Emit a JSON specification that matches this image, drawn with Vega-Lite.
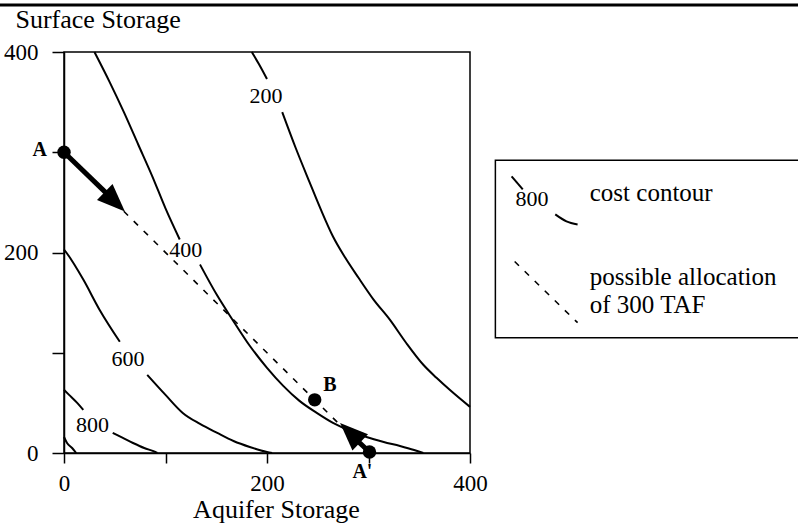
{
  "$schema": "https://vega.github.io/schema/vega-lite/v6.json",
  "width": 406,
  "height": 401,
  "autosize": {"type": "none"},
  "padding": {"left": 64, "top": 52, "right": 328, "bottom": 74},
  "background": "white",
  "config": {
    "font": "Liberation Serif",
    "view": {"stroke": "black", "strokeWidth": 1.5},
    "axis": {
      "grid": false,
      "domainColor": "black",
      "domainWidth": 1.5,
      "tickColor": "black",
      "tickWidth": 1.5,
      "labelColor": "black",
      "labelFont": "Liberation Serif",
      "labelFontSize": 23,
      "titleFont": "Liberation Serif",
      "titleFontSize": 26,
      "titleFontWeight": "normal",
      "titleColor": "black"
    }
  },
  "datasets": {
    "contours": [
      {"s": "200a", "x": 185, "y": 400}, {"s": "200a", "x": 192, "y": 388}, {"s": "200a", "x": 200, "y": 373},
      {"s": "200b", "x": 215, "y": 340}, {"s": "200b", "x": 228, "y": 305}, {"s": "200b", "x": 242, "y": 270},
      {"s": "200b", "x": 253, "y": 243}, {"s": "200b", "x": 265, "y": 216}, {"s": "200b", "x": 277, "y": 195},
      {"s": "200b", "x": 290, "y": 175}, {"s": "200b", "x": 305, "y": 153}, {"s": "200b", "x": 321, "y": 133},
      {"s": "200b", "x": 337, "y": 110}, {"s": "200b", "x": 354, "y": 88}, {"s": "200b", "x": 367, "y": 75},
      {"s": "200b", "x": 380, "y": 63}, {"s": "200b", "x": 400, "y": 46},
      {"s": "400a", "x": 30, "y": 400}, {"s": "400a", "x": 45, "y": 370}, {"s": "400a", "x": 59, "y": 340},
      {"s": "400a", "x": 73, "y": 308}, {"s": "400a", "x": 87, "y": 276}, {"s": "400a", "x": 100, "y": 244},
      {"s": "400a", "x": 114, "y": 213},
      {"s": "400b", "x": 134, "y": 188}, {"s": "400b", "x": 151, "y": 157}, {"s": "400b", "x": 166, "y": 133},
      {"s": "400b", "x": 183, "y": 107}, {"s": "400b", "x": 200, "y": 85}, {"s": "400b", "x": 216, "y": 67},
      {"s": "400b", "x": 232, "y": 52}, {"s": "400b", "x": 249, "y": 40}, {"s": "400b", "x": 265, "y": 30},
      {"s": "400b", "x": 282, "y": 22}, {"s": "400b", "x": 298, "y": 16}, {"s": "400b", "x": 315, "y": 11},
      {"s": "400b", "x": 331, "y": 7}, {"s": "400b", "x": 345, "y": 3}, {"s": "400b", "x": 354, "y": 0},
      {"s": "600a", "x": 0, "y": 203}, {"s": "600a", "x": 3, "y": 199}, {"s": "600a", "x": 19, "y": 173},
      {"s": "600a", "x": 35, "y": 143}, {"s": "600a", "x": 55, "y": 111},
      {"s": "600b", "x": 82, "y": 78}, {"s": "600b", "x": 100, "y": 58}, {"s": "600b", "x": 117, "y": 40},
      {"s": "600b", "x": 134, "y": 29}, {"s": "600b", "x": 151, "y": 20}, {"s": "600b", "x": 167, "y": 12},
      {"s": "600b", "x": 183, "y": 6}, {"s": "600b", "x": 200, "y": 1}, {"s": "600b", "x": 205, "y": 0},
      {"s": "800a", "x": 0, "y": 63}, {"s": "800a", "x": 5, "y": 58}, {"s": "800a", "x": 13, "y": 50},
      {"s": "800a", "x": 19, "y": 43},
      {"s": "800b", "x": 48, "y": 20}, {"s": "800b", "x": 58, "y": 15}, {"s": "800b", "x": 68, "y": 10},
      {"s": "800b", "x": 79, "y": 5}, {"s": "800b", "x": 90, "y": 1}, {"s": "800b", "x": 92, "y": 0},
      {"s": "1000", "x": 0, "y": 16}, {"s": "1000", "x": 3, "y": 10}, {"s": "1000", "x": 8, "y": 5},
      {"s": "1000", "x": 12, "y": 0},
      {"s": "leg1", "x": 441, "y": 276}, {"s": "leg1", "x": 452, "y": 263},
      {"s": "leg2", "x": 484, "y": 238}, {"s": "leg2", "x": 495, "y": 231}, {"s": "leg2", "x": 506, "y": 228}
    ],
    "alloc": [
      {"s": "main", "x": 0, "y": 300}, {"s": "main", "x": 300, "y": 0},
      {"s": "leg", "x": 444, "y": 191}, {"s": "leg", "x": 506, "y": 130}
    ],
    "shafts": [
      {"s": "a1", "x": 0, "y": 300}, {"s": "a1", "x": 45, "y": 256},
      {"s": "a2", "x": 301, "y": 1}, {"s": "a2", "x": 287, "y": 14}
    ],
    "points": [
      {"name": "A", "x": 0, "y": 300},
      {"name": "A'", "x": 301, "y": 1},
      {"name": "B", "x": 247, "y": 53}
    ],
    "contourLabels": [
      {"t": "200", "x": 199, "y": 356},
      {"t": "400", "x": 120, "y": 202},
      {"t": "600", "x": 63, "y": 94},
      {"t": "800", "x": 28, "y": 28},
      {"t": "800", "x": 461, "y": 253}
    ],
    "pointLabels": [
      {"t": "A", "x": -24, "y": 302},
      {"t": "A'", "x": 294, "y": -19},
      {"t": "B", "x": 262, "y": 68}
    ],
    "legendText": [
      {"t": "cost contour", "x": 518, "y": 251},
      {"t": "possible allocation", "x": 518, "y": 168},
      {"t": "of 300 TAF", "x": 518, "y": 140}
    ]
  },
  "encoding": {
    "x": {
      "field": "x",
      "type": "quantitative",
      "scale": {"domain": [0, 400], "nice": false, "zero": false},
      "axis": {
        "values": [0, 100, 200, 300, 400],
        "labelExpr": "datum.value % 200 === 0 ? datum.label : ''",
        "tickSize": 10,
        "labelPadding": 9,
        "labelFlush": false,
        "labelOverlap": false,
        "title": "Aquifer Storage",
        "titleX": 212,
        "titleY": 64,
        "titleAlign": "center",
        "titleBaseline": "alphabetic"
      }
    },
    "y": {
      "field": "y",
      "type": "quantitative",
      "scale": {"domain": [0, 400], "nice": false, "zero": false},
      "axis": {
        "values": [0, 100, 200, 300, 400],
        "labelExpr": "datum.value % 200 === 0 ? datum.label : ''",
        "tickSize": 12,
        "labelPadding": 14,
        "labelFlush": false,
        "labelOverlap": false,
        "title": "Surface Storage",
        "titleAngle": 0,
        "titleX": -49,
        "titleY": -25,
        "titleAlign": "left",
        "titleBaseline": "alphabetic"
      }
    }
  },
  "layer": [
    {
      "data": {"name": "contours"},
      "mark": {"type": "line", "color": "black", "strokeWidth": 2, "interpolate": "monotone", "clip": false},
      "encoding": {"detail": {"field": "s"}}
    },
    {
      "data": {"name": "alloc"},
      "mark": {"type": "line", "color": "black", "strokeWidth": 1.6, "strokeDash": [6, 8], "clip": false},
      "encoding": {"detail": {"field": "s"}}
    },
    {
      "data": {"values": [{"x": 425, "x2": 760, "y": 115, "y2": 292}]},
      "mark": {"type": "rect", "filled": false, "stroke": "black", "strokeWidth": 1.5, "clip": false},
      "encoding": {"x2": {"field": "x2"}, "y2": {"field": "y2"}}
    },
    {
      "data": {"values": [{"x": -80, "x2": 760, "y": 447}]},
      "mark": {"type": "rule", "color": "black", "strokeWidth": 3, "clip": false},
      "encoding": {"x2": {"field": "x2"}}
    },
    {
      "data": {"name": "shafts"},
      "mark": {"type": "line", "color": "black", "strokeWidth": 5, "clip": false},
      "encoding": {"detail": {"field": "s"}}
    },
    {
      "data": {"values": [{"x": 60, "y": 241}]},
      "mark": {"type": "point", "shape": "M0,0L-0.8,2L0.8,2Z", "size": 784, "angle": 134, "filled": true, "color": "black", "opacity": 1, "clip": false}
    },
    {
      "data": {"values": [{"x": 272, "y": 30}]},
      "mark": {"type": "point", "shape": "M0,0L-0.8,2L0.8,2Z", "size": 784, "angle": 314, "filled": true, "color": "black", "opacity": 1, "clip": false}
    },
    {
      "data": {"name": "points"},
      "mark": {"type": "point", "shape": "circle", "size": 180, "filled": true, "color": "black", "opacity": 1, "clip": false}
    },
    {
      "data": {"name": "contourLabels"},
      "mark": {"type": "text", "font": "Liberation Serif", "fontSize": 22, "color": "black", "align": "center", "baseline": "middle", "clip": false},
      "encoding": {"text": {"field": "t"}}
    },
    {
      "data": {"name": "pointLabels"},
      "mark": {"type": "text", "font": "Liberation Serif", "fontSize": 20, "fontWeight": "bold", "color": "black", "align": "center", "baseline": "middle", "clip": false},
      "encoding": {"text": {"field": "t"}}
    },
    {
      "data": {"name": "legendText"},
      "mark": {"type": "text", "font": "Liberation Serif", "fontSize": 25, "color": "black", "align": "left", "baseline": "alphabetic", "clip": false},
      "encoding": {"text": {"field": "t"}}
    }
  ]
}
